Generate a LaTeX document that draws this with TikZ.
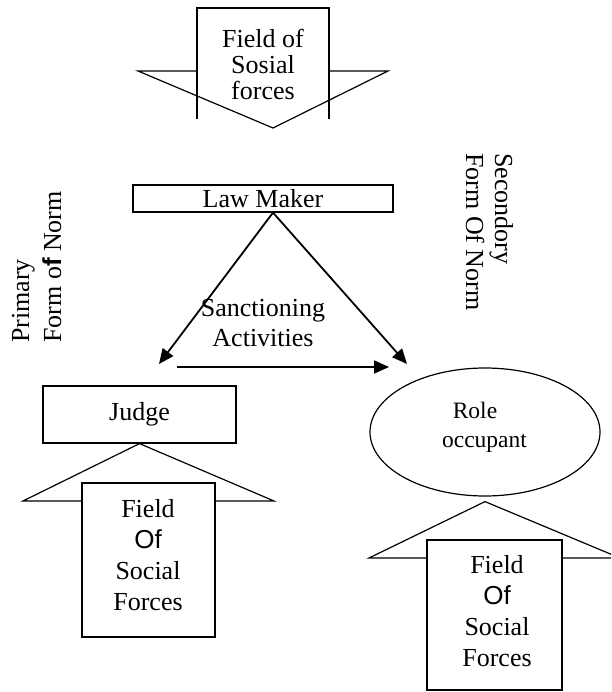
\documentclass[tikz,border=0pt]{standalone}
\usepackage{fontspec}
\setmainfont{Liberation Serif}
\newfontfamily\arialf{Liberation Sans}
\usetikzlibrary{arrows.meta,shapes.geometric}
\tikzset{
  bigtxt/.style={font=\fontsize{26}{31}\selectfont, inner sep=0pt},
  ln/.style={line width=1.2pt},
  arr/.style={line width=1.8pt, -{Triangle[length=15pt,width=13pt]}},
  boxn/.style={draw, line width=1.2pt, inner sep=0pt, font=\fontsize{26}{31}\selectfont},
  fieldbox/.style={draw, fill=white, line width=1.2pt, inner sep=0pt},
}
\begin{document}
\begin{tikzpicture}[x=1pt,y=-1pt]
\useasboundingbox (0,0) rectangle (611,692);
\clip (0,0) rectangle (611,692);

% top field of social forces (downward block arrow)
\draw[ln] (197,119) -- (197,8) -- (329,8) -- (329,119);
\draw[ln] (197,71) -- (138,71) -- (273,128) -- (388,71) -- (329,71);
\node[bigtxt, align=center, font=\fontsize{26}{26}\selectfont] (topfield) at (263,64) {Field of\\Sosial\\forces};

% law maker
\node[boxn, minimum width=260pt, minimum height=27pt] (law) at (263,198.5) {Law Maker};
\coordinate (apex) at ([xshift=10pt]law.south);
\coordinate (tipL) at (159,364);
\coordinate (tipR) at (407,364);
\draw[arr] (apex) -- (tipL);
\draw[arr] (apex) -- (tipR);
\coordinate (hs) at (177,367);
\coordinate (he) at (389,367);
\draw[arr] (hs) -- (he);
\node[bigtxt, align=center, font=\fontsize{26}{30}\selectfont] (sanc) at (263,323) {Sanctioning\\Activities};

% side labels
\node[bigtxt, rotate=90, anchor=base west] (prim) at (29,343) {Primary};
\node[bigtxt, rotate=90, anchor=base west] (formA) at (61,343) {Form o{\arialf\bfseries f} Norm};
\node[bigtxt, rotate=-90, anchor=base west] (sec) at (495,153) {Secondory};
\node[bigtxt, rotate=-90, anchor=base west] (formB) at (466,153) {Form Of Norm};

% judge and its field
\node[boxn, minimum width=193pt, minimum height=57pt] (judge) at (139.5,414.5) {Judge};
\draw[ln] (judge.south) -- (23,501) -- (274,501) -- cycle;
\node[fieldbox, minimum width=133pt, minimum height=154pt] (fieldL) at (148.5,560) {};
\node[bigtxt, align=center] (fieldLtxt) at (148,555) {Field\\{\arialf Of}\\Social\\Forces};

% role occupant and its field
\node[draw, ln, ellipse, minimum width=230pt, minimum height=128pt, inner sep=0pt] (role) at (485,432) {};
\node[inner sep=0pt, align=center, font=\fontsize{23.5}{29}\selectfont] (roletxt) at (484.5,427) {Role\hspace*{19pt}\\occupant};
\coordinate (rapex) at ([yshift=-5pt]role.south);
\draw[ln] (rapex) -- (369,558) -- (620,558) -- cycle;
\node[fieldbox, minimum width=135pt, minimum height=150pt] (fieldR) at (494.5,615) {};
\node[bigtxt, align=center] (fieldRtxt) at (497,611.5) {Field\\{\arialf Of}\\Social\\Forces};
\end{tikzpicture}
\end{document}
